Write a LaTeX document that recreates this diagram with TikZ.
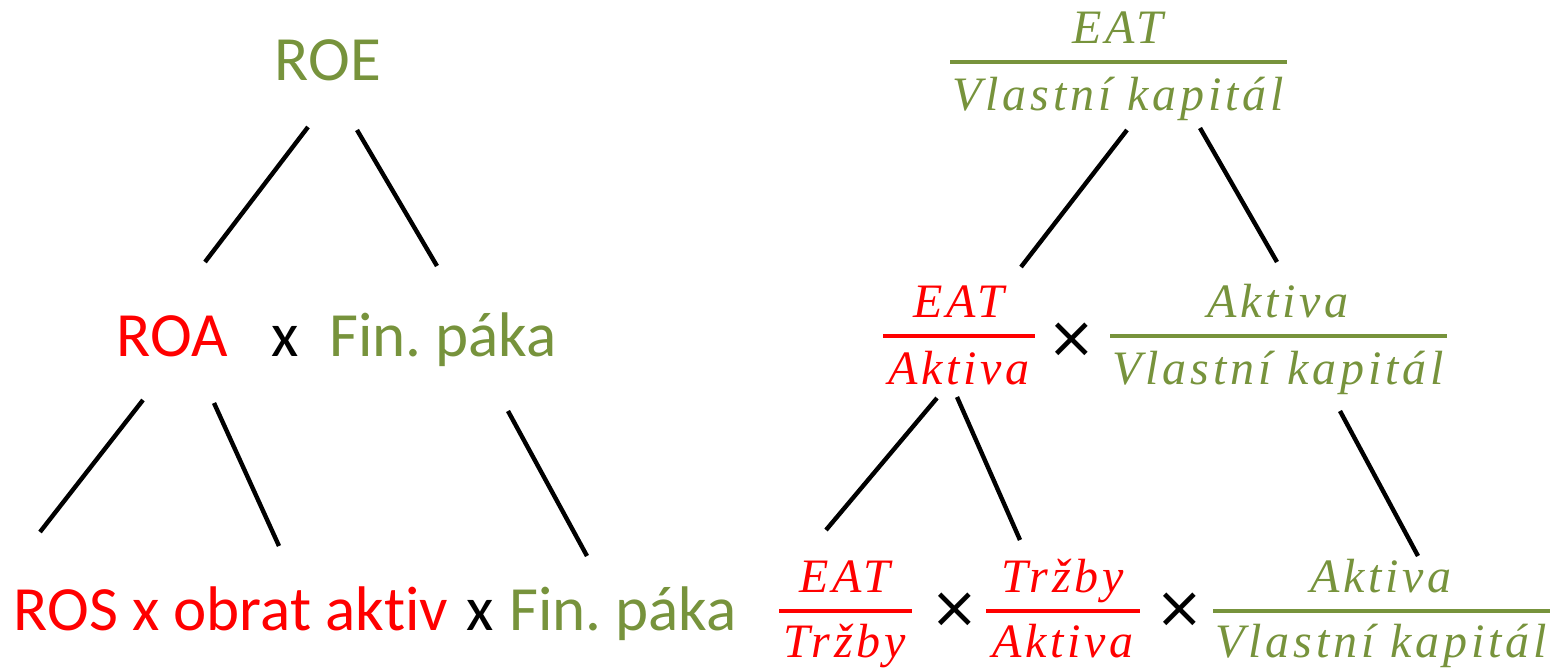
\documentclass[tikz,border=0pt]{standalone}
\usepackage{fontspec}
\setmainfont[Ligatures=NoCommon]{Carlito}
\newfontfamily\fracfont[LetterSpace=8]{Liberation Serif}
\newfontfamily\symfont{DejaVu Sans}
\definecolor{og}{HTML}{77933C}
\definecolor{rd}{HTML}{FF0000}
\frenchspacing
\begin{document}
\begin{tikzpicture}[x=0.5pt,y=-0.5pt,
  lab/.style={font=\fontsize{31.5}{36}\selectfont, inner sep=0, anchor=base},
  fr/.style={font=\fracfont\itshape\fontsize{24}{28}\selectfont, inner sep=0, anchor=base},
  tms/.style={font=\symfont\fontsize{29}{34}\selectfont, inner sep=0},
  conn/.style={line width=2.2pt},
  bar/.style={line width=2.2pt}]
\useasboundingbox (0,0) rectangle (1553,669);
% left tree
\node[lab, og] (roe) at (328,80) {ROE};
\node[lab, rd] (roa) at (172,356) {ROA};
\node[lab] (x1) at (285,356) {x};
\node[lab, og] (fp1) at (443,356) {Fin. páka};
\node[lab, rd] (ros) at (231,630) {ROS x obrat aktiv};
\node[lab] (x2) at (480,630) {x};
\node[lab, og] (fp2) at (623,630) {Fin. páka};
\coordinate (a1) at (308,127); \coordinate (a2) at (205,262);
\coordinate (b1) at (357,130); \coordinate (b2) at (437,266);
\coordinate (c1) at (143,400); \coordinate (c2) at (40,532);
\coordinate (d1) at (214,403); \coordinate (d2) at (279,546);
\coordinate (e1) at (508,411); \coordinate (e2) at (587,556);
\draw[conn] (a1) -- (a2);
\draw[conn] (b1) -- (b2);
\draw[conn] (c1) -- (c2);
\draw[conn] (d1) -- (d2);
\draw[conn] (e1) -- (e2);
% right tree
% top fraction
\coordinate (t1) at (950,62); \coordinate (t2) at (1287,62);
\draw[bar, og] (t1) -- (t2);
\node[fr, og] (tn) at (1118,43) {EAT};
\node[fr, og] (td) at (1118,110) {Vlastní kapitál};
% middle fractions
\coordinate (m1) at (883,336); \coordinate (m2) at (1035,336);
\draw[bar, rd] (m1) -- (m2);
\node[fr, rd] (mn) at (959,317) {EAT};
\node[fr, rd] (md) at (959,384) {Aktiva};
\node[tms] (mx) at (1072,340) {×};
\coordinate (n1) at (1110,336); \coordinate (n2) at (1447,336);
\draw[bar, og] (n1) -- (n2);
\node[fr, og] (nn) at (1278,317) {Aktiva};
\node[fr, og] (nd) at (1278,384) {Vlastní kapitál};
% bottom fractions
\coordinate (p1) at (779,611); \coordinate (p2) at (912,611);
\draw[bar, rd] (p1) -- (p2);
\node[fr, rd] (pn) at (845,592) {EAT};
\node[fr, rd] (pd) at (845,657) {Tržby};
\node[tms] (px) at (955,610) {×};
\coordinate (q1) at (986,611); \coordinate (q2) at (1140,611);
\draw[bar, rd] (q1) -- (q2);
\node[fr, rd] (qn) at (1063,592) {Tržby};
\node[fr, rd] (qd) at (1063,657) {Aktiva};
\node[tms] (qx) at (1180,610) {×};
\coordinate (r1) at (1213,611); \coordinate (r2) at (1550,611);
\draw[bar, og] (r1) -- (r2);
\node[fr, og] (rn) at (1381,592) {Aktiva};
\node[fr, og] (rd) at (1381,657) {Vlastní kapitál};
% right connectors
\coordinate (f1) at (1127,130); \coordinate (f2) at (1021,267);
\coordinate (g1) at (1200,128); \coordinate (g2) at (1277,262);
\coordinate (h1) at (937,398); \coordinate (h2) at (826,530);
\coordinate (i1) at (957,397); \coordinate (i2) at (1020,540);
\coordinate (j1) at (1340,411); \coordinate (j2) at (1418,556);
\draw[conn] (f1) -- (f2);
\draw[conn] (g1) -- (g2);
\draw[conn] (h1) -- (h2);
\draw[conn] (i1) -- (i2);
\draw[conn] (j1) -- (j2);
\end{tikzpicture}
\end{document}
